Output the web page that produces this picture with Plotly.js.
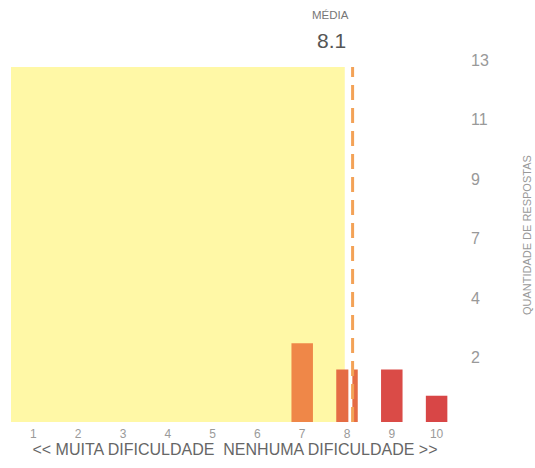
<!DOCTYPE html>
<html>
<head>
<meta charset="utf-8">
<script src="https://cdn.plot.ly/plotly-3.0.1.min.js"></script>
<style>html,body{margin:0;padding:0;background:#fff;}#chart{width:535px;height:468px;}</style>
</head>
<body>
<div id="chart"></div>
<script>
// ---- data ----
const scores = [1, 2, 3, 4, 5, 6, 7, 8, 9, 10];
const responses = [0, 0, 0, 0, 0, 0, 3, 2, 2, 1];
const barColors = ['#F0884A','#F0884A','#F0884A','#F0884A','#F0884A','#F0884A','#EF8748','#E56C44','#DA4B47','#D84646'];
const yTickLabels = ['2', '4', '7', '9', '11', '13'];
const xTitle = '<< MUITA DIFICULDADE\u00a0\u00a0NENHUMA DIFICULDADE >>';
const yTitle = 'QUANTIDADE DE RESPOSTAS';
const meanLabel = 'MÉDIA';

// ---- derived ----
const total = responses.reduce((a, b) => a + b, 0);
const mean = scores.reduce((s, x, i) => s + x * responses[i], 0) / total;
const meanText = mean.toFixed(1);

const yMax = 13.78;
const tickStep = 2.266;
const yTickVals = yTickLabels.map((_, i) => yMax - (yTickLabels.length - 1 - i) * tickStep);

const font = 'Liberation Sans, Arial, Helvetica, sans-serif';

const trace = {
  type: 'bar',
  x: scores,
  y: responses,
  width: 0.48,
  marker: { color: barColors, line: { width: 0 } },
  hoverinfo: 'x+y'
};

const layout = {
  width: 535,
  height: 468,
  margin: { l: 10.5, r: 75.5, t: 60, b: 45.5, pad: 0 },
  paper_bgcolor: '#ffffff',
  plot_bgcolor: 'rgba(0,0,0,0)',
  showlegend: false,
  font: { family: font, color: '#888' },
  xaxis: {
    range: [0.5, 10.5],
    tickvals: scores,
    ticktext: scores.map(String),
    showgrid: false,
    zeroline: false,
    showline: false,
    ticks: '',
    ticklabelstandoff: 3,
    tickfont: { size: 12, color: '#9a9a9a' },
    automargin: false,
    title: { text: xTitle, font: { size: 16, color: '#666' }, standoff: 1 }
  },
  yaxis: {
    range: [0, yMax],
    side: 'right',
    tickvals: yTickVals,
    ticktext: yTickLabels,
    showgrid: false,
    zeroline: false,
    showline: false,
    ticks: '',
    ticklabelstandoff: 11,
    tickfont: { size: 16, color: '#999' },
    automargin: false
  },
  shapes: [
    { type: 'rect', layer: 'below', xref: 'x', yref: 'paper', x0: 0.5, x1: 7.95, y0: 0, y1: 0.981,
      fillcolor: '#FFF8A6', line: { width: 0 } },
    { type: 'line', layer: 'above', xref: 'x', yref: 'paper', x0: mean - 0.05, x1: mean - 0.05, y0: 0, y1: 0.981,
      line: { color: '#ffffff', width: 4 } },
    { type: 'line', layer: 'above', xref: 'x', yref: 'paper', x0: mean, x1: mean, y0: 0, y1: 0.981,
      line: { color: '#F3A257', width: 3, dash: '15px,8px' } }
  ],
  annotations: [
    { text: meanLabel, xref: 'paper', yref: 'paper', x: 0.714, y: 1 + (60 - 14.5) / 362.5,
      xanchor: 'center', yanchor: 'middle', showarrow: false, font: { size: 11.5, color: '#777' } },
    { text: meanText, xref: 'paper', yref: 'paper', x: 0.716, y: 1 + (60 - 40) / 362.5,
      xanchor: 'center', yanchor: 'middle', showarrow: false, font: { size: 21, color: '#555' } },
    { text: yTitle, xref: 'paper', yref: 'paper', x: (527 - 10.5) / 449, y: (422.5 - 235) / 362.5,
      xanchor: 'center', yanchor: 'middle', textangle: -90, showarrow: false, font: { size: 11, color: '#999' } }
  ]
};

Plotly.newPlot('chart', [trace], layout, { displayModeBar: false, staticPlot: true });
</script>
</body>
</html>
